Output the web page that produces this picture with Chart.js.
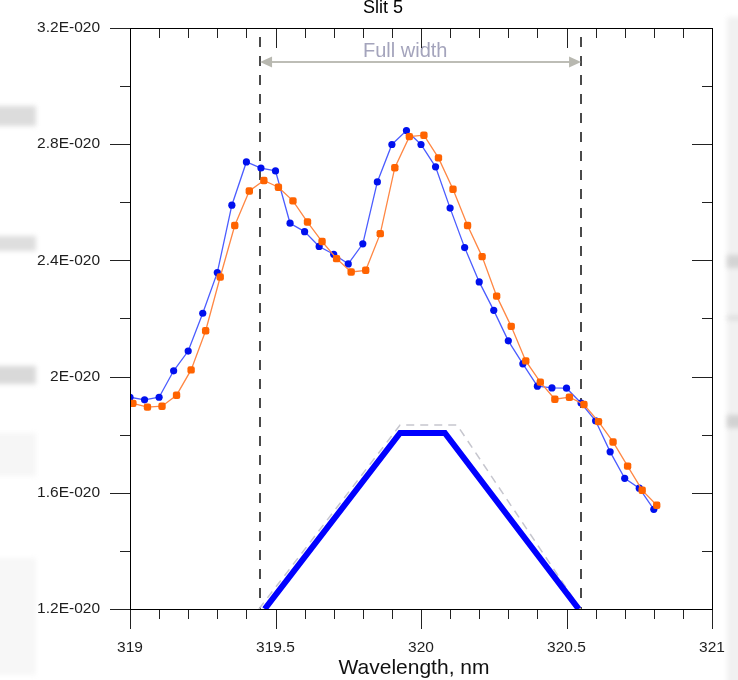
<!DOCTYPE html>
<html>
<head>
<meta charset="utf-8">
<script src="https://cdn.jsdelivr.net/npm/chart.js@4/dist/chart.umd.min.js"></script>
<style>
  html, body { margin: 0; padding: 0; background: #fff; overflow: hidden; }
  canvas { display: block; }
</style>
</head>
<body>
<canvas id="chart" width="738" height="680"></canvas>
<script>
const FONT = '"Liberation Sans", Arial, Helvetica, sans-serif';

// Measured spectrum 1 (blue) — wavelength, nm
const blueWavelength = [
  319.00, 319.05, 319.10, 319.15, 319.20, 319.25, 319.30, 319.35, 319.40, 319.45,
  319.50, 319.55, 319.60, 319.65, 319.70, 319.75, 319.80, 319.85, 319.90, 319.95,
  320.00, 320.05, 320.10, 320.15, 320.20, 320.25, 320.30, 320.35, 320.40, 320.45,
  320.50, 320.55, 320.60, 320.65, 320.70, 320.75, 320.80
];
// intensity in units of 1E-020
const blueIntensity = [
  1.929, 1.920, 1.929, 2.020, 2.088, 2.218, 2.358, 2.590, 2.739, 2.718,
  2.708, 2.528, 2.499, 2.448, 2.421, 2.388, 2.457, 2.670, 2.799, 2.847,
  2.799, 2.722, 2.580, 2.444, 2.326, 2.228, 2.123, 2.044, 1.967, 1.961,
  1.960, 1.909, 1.848, 1.741, 1.650, 1.616, 1.543
];

// Measured spectrum 2 (orange) — wavelength, nm
const orangeWavelength = [
  319.01, 319.06, 319.11, 319.16, 319.21, 319.26, 319.31, 319.36, 319.41, 319.46,
  319.51, 319.56, 319.61, 319.66, 319.71, 319.76, 319.81, 319.86, 319.91, 319.96,
  320.01, 320.06, 320.11, 320.16, 320.21, 320.26, 320.31, 320.36, 320.41, 320.46,
  320.51, 320.56, 320.61, 320.66, 320.71, 320.76, 320.81
];
// intensity in units of 1E-020
const orangeIntensity = [
  1.908, 1.895, 1.898, 1.936, 2.023, 2.158, 2.343, 2.520, 2.639, 2.675,
  2.652, 2.605, 2.532, 2.465, 2.406, 2.360, 2.366, 2.492, 2.719, 2.826,
  2.831, 2.753, 2.645, 2.520, 2.413, 2.277, 2.173, 2.054, 1.981, 1.922,
  1.929, 1.904, 1.845, 1.775, 1.692, 1.609, 1.557
];

// Slit function (thick blue trapezoid) and its reference outline (dashed grey)
const slitWavelength = [319.463, 319.928, 320.082, 320.542];
const slitLevel      = [1.2, 1.806, 1.806, 1.2];
const outlineWavelength = [319.443, 319.928, 320.124, 320.548];
const outlineLevel      = [1.2, 1.833, 1.833, 1.2];

// Full-width markers, nm
const fullWidthEdges = [319.447, 320.55];

// Axis ticks
const xTickValues = [319, 319.5, 320, 320.5, 321];
const xTickLabels = ['319', '319.5', '320', '320.5', '321'];
const xMinorStep = 0.1;
const yTickValues = [1.2, 1.6, 2.0, 2.4, 2.8, 3.2];
const yTickLabels = ['1.2E-020', '1.6E-020', '2E-020', '2.4E-020', '2.8E-020', '3.2E-020'];
const yMinorStep = 0.2;

const toPoints = (xs, ys) => xs.map((x, i) => ({ x: x, y: ys[i] }));

function crisp(v) { return Math.round(v) + 0.5; }

const decorations = {
  id: 'decorations',
  beforeDraw(chart) {
    const ctx = chart.ctx;
    ctx.save();
    ctx.filter = 'blur(2.5px)';
    // left margin bands
    const left = [
      [106, 20, '#dcdcdc'], [236, 15, '#dedede'], [366, 18, '#d9d9d9'],
      [433, 43, '#f6f6f6'], [558, 117, '#f7f7f7']
    ];
    left.forEach(([y, h, c]) => { ctx.fillStyle = c; ctx.fillRect(-6, y, 42, h); });
    // right margin strip
    ctx.fillStyle = '#f1f1f1';
    ctx.fillRect(727, 17, 20, 680);
    const right = [[255, 13, '#d4d4d4'], [316, 4, '#dadada'], [415, 13, '#d2d2d2']];
    right.forEach(([y, h, c]) => { ctx.fillStyle = c; ctx.fillRect(727, y, 20, h); });
    ctx.restore();
  },
  beforeDatasetsDraw(chart) {
    const ctx = chart.ctx;
    const xs = chart.scales.x;
    const area = chart.chartArea;
    ctx.save();
    // dashed full-width boundaries
    ctx.strokeStyle = '#4a4a4a';
    ctx.lineWidth = 2;
    ctx.setLineDash([10, 9]);
    fullWidthEdges.forEach(w => {
      const px = Math.round(xs.getPixelForValue(w));
      ctx.beginPath();
      ctx.moveTo(px, area.top + 9);
      ctx.lineTo(px, area.bottom);
      ctx.stroke();
    });
    ctx.setLineDash([]);
    // double-headed arrow
    const x0 = xs.getPixelForValue(fullWidthEdges[0]);
    const x1 = xs.getPixelForValue(fullWidthEdges[1]);
    const ya = 62;
    ctx.strokeStyle = '#bdbdb6';
    ctx.fillStyle = '#b8b8b0';
    ctx.lineWidth = 2;
    ctx.beginPath();
    ctx.moveTo(x0 + 8, ya);
    ctx.lineTo(x1 - 8, ya);
    ctx.stroke();
    ctx.beginPath();
    ctx.moveTo(x0, ya); ctx.lineTo(x0 + 12, ya - 5.5); ctx.lineTo(x0 + 12, ya + 5.5); ctx.closePath();
    ctx.fill();
    ctx.beginPath();
    ctx.moveTo(x1, ya); ctx.lineTo(x1 - 12, ya - 5.5); ctx.lineTo(x1 - 12, ya + 5.5); ctx.closePath();
    ctx.fill();
    // label
    ctx.font = '20px ' + FONT;
    ctx.fillStyle = '#a4a4bc';
    ctx.textAlign = 'left';
    ctx.textBaseline = 'alphabetic';
    ctx.fillText('Full width', 363, 57);
    ctx.restore();
  },
  afterDraw(chart) {
    const ctx = chart.ctx;
    const xs = chart.scales.x, ys = chart.scales.y;
    const a = chart.chartArea;
    const L = Math.round(a.left), R = Math.round(a.right), T = Math.round(a.top), B = Math.round(a.bottom);
    ctx.save();
    ctx.strokeStyle = '#222';
    ctx.lineWidth = 1;
    ctx.beginPath();
    // x ticks: bottom outward, top inward
    const nx = Math.round((xs.max - xs.min) / xMinorStep);
    for (let i = 0; i <= nx; i++) {
      const v = xs.min + i * xMinorStep;
      const major = xTickValues.some(t => Math.abs(t - v) < 1e-6);
      const len = major ? 20 : 10;
      const px = crisp(xs.getPixelForValue(v));
      ctx.moveTo(px, B); ctx.lineTo(px, B + len);
      ctx.moveTo(px, T); ctx.lineTo(px, T + len);
    }
    // y ticks: left outward, right inward
    const ny = Math.round((ys.max - ys.min) / yMinorStep);
    for (let i = 0; i <= ny; i++) {
      const v = ys.min + i * yMinorStep;
      const major = yTickValues.some(t => Math.abs(t - v) < 1e-6);
      const len = major ? 20 : 10;
      const py = crisp(ys.getPixelForValue(v));
      ctx.moveTo(L - len, py); ctx.lineTo(L, py);
      ctx.moveTo(R, py); ctx.lineTo(R - len, py);
    }
    ctx.stroke();
    // frame
    ctx.strokeStyle = '#000';
    ctx.strokeRect(L + 0.5, T + 0.5, R - L, B - T);
    // titles
    ctx.fillStyle = '#000';
    ctx.font = '18px ' + FONT;
    ctx.textAlign = 'center';
    ctx.textBaseline = 'alphabetic';
    ctx.fillText('Slit 5', 383, 13);
    ctx.fillStyle = '#111';
    ctx.font = '21px ' + FONT;
    ctx.textBaseline = 'middle';
    ctx.fillText('Wavelength, nm', 414, 668);
    ctx.restore();
  }
};

new Chart(document.getElementById('chart'), {
  type: 'scatter',
  data: {
    datasets: [
      {
        label: 'Spectrum 2',
        data: toPoints(orangeWavelength, orangeIntensity),
        showLine: true,
        borderColor: '#ff8744',
        borderWidth: 1.3,
        pointStyle: 'rectRounded',
        pointRadius: 4.3,
        pointBackgroundColor: '#ff6300',
        pointBorderColor: '#ff6300',
        pointBorderWidth: 0,
        order: 1
      },
      {
        label: 'Spectrum 1',
        data: toPoints(blueWavelength, blueIntensity),
        showLine: true,
        borderColor: '#4b5cff',
        borderWidth: 1.3,
        pointStyle: 'circle',
        pointRadius: 3.6,
        pointBackgroundColor: '#0010ee',
        pointBorderColor: '#0010ee',
        pointBorderWidth: 0,
        order: 2
      },
      {
        label: 'Slit',
        data: toPoints(slitWavelength, slitLevel),
        showLine: true,
        borderColor: '#0000ff',
        borderWidth: 6,
        borderJoinStyle: 'miter',
        pointRadius: 0,
        order: 3
      },
      {
        label: 'Slit outline',
        data: toPoints(outlineWavelength, outlineLevel),
        showLine: true,
        borderColor: '#c6c6ce',
        borderWidth: 1.5,
        borderDash: [8, 6],
        pointRadius: 0,
        order: 4
      }
    ]
  },
  options: {
    responsive: false,
    animation: false,
    devicePixelRatio: 1,
    layout: { padding: { left: 0, right: 26, top: 28, bottom: 0 } },
    plugins: {
      legend: { display: false },
      tooltip: { enabled: false },
      title: { display: false }
    },
    scales: {
      x: {
        type: 'linear',
        min: 319,
        max: 321,
        afterFit(s) {
          s.height = 71;
          s.paddingLeft = 0; s.paddingRight = 0;
        },
        afterBuildTicks(s) { s.ticks = xTickValues.map(v => ({ value: v })); },
        grid: { display: false, drawTicks: false },
        border: { display: false },
        ticks: {
          padding: 29,
          autoSkip: false,
          maxRotation: 0,
          color: '#1e1e1e',
          font: { family: FONT, size: 15.5 },
          callback: (v, i) => xTickLabels[i]
        }
      },
      y: {
        type: 'linear',
        min: 1.2,
        max: 3.2,
        afterFit(s) {
          s.width = 130;
          s.paddingTop = 0; s.paddingBottom = 0;
        },
        afterBuildTicks(s) { s.ticks = yTickValues.map(v => ({ value: v })); },
        grid: { display: false, drawTicks: false },
        border: { display: false },
        ticks: {
          padding: 30,
          autoSkip: false,
          color: '#1e1e1e',
          font: { family: FONT, size: 15.5 },
          callback: (v, i) => yTickLabels[i]
        }
      }
    }
  },
  plugins: [decorations]
});
</script>
</body>
</html>
